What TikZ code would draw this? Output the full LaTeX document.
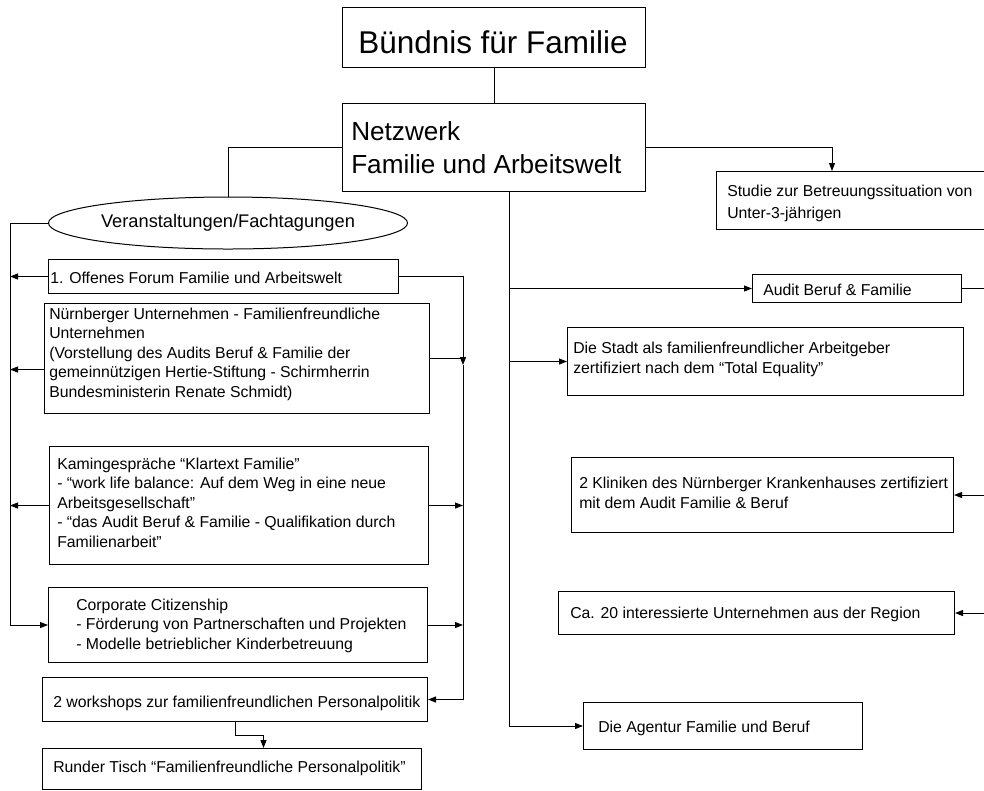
\documentclass[tikz,border=0pt]{standalone}
\usepackage{fontspec}
\setmainfont{Liberation Sans}
\usetikzlibrary{arrows.meta,calc,shapes.geometric}

\tikzset{
  box/.style={draw, rectangle, inner sep=0pt, anchor=north west, line width=0.75pt},
  rect/.style 2 args={minimum width=#1*0.75pt, minimum height=#2*0.75pt},
  lbl/.style={inner sep=0pt, anchor=base west, align=left, font=\fontsize{11.85}{14.6}\selectfont},
  link/.style={line width=0.75pt},
  tip/.style={-{Triangle[length=6pt,width=4.5pt]}},
}

\begin{document}
\begin{tikzpicture}[x=0.75pt,y=0.75pt,yscale=-1,xscale=1]
\path[use as bounding box] (0,0) rectangle (984,790);

%Shape: Rectangle [top]
\node[box, rect={303}{60}] (bund) at (342,7) {};
%Shape: Rectangle [Netzwerk]
\node[box, rect={303}{88}] (netz) at (342,103) {};
%Shape: Ellipse
\node[draw, ellipse, line width=0.75pt, inner sep=0pt, minimum width=334*0.75pt, minimum height=52*0.75pt, font=\fontsize{13.7}{16}\selectfont] (veran) at (228,223) {Veranstaltungen/Fachtagungen};

%Shape: Rectangle [left column]
\node[box, rect={350}{34}] (forum) at (48,259) {};
\node[box, rect={385}{110}] (nuern) at (44,303) {};
\node[box, rect={379}{118}] (kamin) at (49,446) {};
\node[box, rect={379}{75}] (corp) at (48,587) {};
\node[box, rect={385}{44}] (work) at (42,677) {};
\node[box, rect={379}{41}] (rund) at (42,748) {};

%Shape: Rectangle [right column]
\node[box, rect={290}{58}] (studie) at (716,171) {};
\node[box, rect={209}{28}] (audit) at (752,274) {};
\node[box, rect={396}{68}] (stadt) at (567,327) {};
\node[box, rect={382}{75}] (klinik) at (571,457) {};
\node[box, rect={396}{43}] (ca20) at (558,591) {};
\node[box, rect={279}{47}] (agentur) at (583,702) {};

\coordinate (lbus) at (10,223);
\coordinate (rbus) at (463,276);
\coordinate (rmid) at (463,365);
\coordinate (trunk) at (509,191);
\coordinate (redge) at (990,288);
\coordinate (nwest) at ($(nuern.west)+(0,11)$);

%Straight Lines
\draw[link] (bund) -- (netz);
\draw[link] (netz.west) -| (veran.north);
\draw[link,tip] (netz.east) -| ($(studie.north west)+(116,0)$);
\draw[link,tip] (trunk) |- (agentur.west);
\draw[link,tip] (trunk |- audit.west) -- (audit.west);
\draw[link,tip] (trunk |- stadt.west) -- (stadt.west);
\draw[link] (audit.east) -- (audit.east -| redge);
\draw[link,tip] (klinik.east -| redge) -- (klinik.east);
\draw[link,tip] (ca20.east -| redge) -- (ca20.east);

%Straight Lines [left bus]
\draw[link,tip] (veran.west) -| (lbus |- corp.west) -- (corp.west);
\draw[link,tip] (forum.west) -- (forum.west -| lbus);
\draw[link,tip] (nwest) -- (nwest -| lbus);
\draw[link,tip] (kamin.west) -- (kamin.west -| lbus);

%Straight Lines [right bus]
\draw[link,tip] (forum.east) -| (rmid);
\draw[link,tip] (rmid) |- (work.east);
\draw[link] (nuern.east) -- (nuern.east -| rbus);
\draw[link,tip] (kamin.east) -- (kamin.east -| rbus);
\draw[link,tip] (corp.east) -- (corp.east -| rbus);
\draw[link,tip] (work.south) -- ++(0,13) -| ($(rund.north)+(31.5,0)$);

% Text Node (multi-line texts sit on their last baseline)
\node[inner sep=0pt, anchor=base, font=\fontsize{23.6}{28}\selectfont] (tbund) at (493,53) {Bündnis für Familie};
% Text Node
\node[lbl, font=\fontsize{19.6}{24.75}\selectfont] (tnetz) at (351,173) {Netzwerk\\Familie und Arbeitswelt};
% Text Node
\node[lbl] (tforum) at (50,283) {1. Offenes Forum Familie und Arbeitswelt};
% Text Node
\node[lbl] (tnuern) at (49,397) {Nürnberger Unternehmen - Familienfreundliche\\Unternehmen\\(Vorstellung des Audits Beruf \& Familie der\\gemeinnützigen Hertie-Stiftung - Schirmherrin\\Bundesministerin Renate Schmidt)};
% Text Node
\node[lbl] (tkamin) at (57,547) {Kamingespräche “Klartext Familie”\\- “work life balance: Auf dem Weg in eine neue\\Arbeitsgesellschaft”\\- “das Audit Beruf \& Familie - Qualifikation durch\\Familienarbeit”};
% Text Node
\node[lbl] (tcorp) at (76,649) {Corporate Citizenship\\- Förderung von Partnerschaften und Projekten\\- Modelle betrieblicher Kinderbetreuung};
% Text Node
\node[lbl] (twork) at (53,707) {2 workshops zur familienfreundlichen Personalpolitik};
% Text Node
\node[lbl] (trund) at (53,772) {Runder Tisch “Familienfreundliche Personalpolitik”};
% Text Node
\node[lbl, font=\fontsize{11.85}{16.5}\selectfont] (tstudie) at (727,218) {Studie zur Betreuungssituation von\\Unter-3-jährigen};
% Text Node
\node[lbl] (taudit) at (763,295) {Audit Beruf \& Familie};
% Text Node
\node[lbl] (tstadt) at (573,373) {Die Stadt als familienfreundlicher Arbeitgeber\\zertifiziert nach dem “Total Equality”};
% Text Node
\node[lbl] (tklinik) at (579,508) {2 Kliniken des Nürnberger Krankenhauses zertifiziert\\mit dem Audit Familie \& Beruf};
% Text Node
\node[lbl] (tca20) at (570,618) {Ca. 20 interessierte Unternehmen aus der Region};
% Text Node
\node[lbl] (tagentur) at (598,732) {Die Agentur Familie und Beruf};

\end{tikzpicture}
\end{document}
